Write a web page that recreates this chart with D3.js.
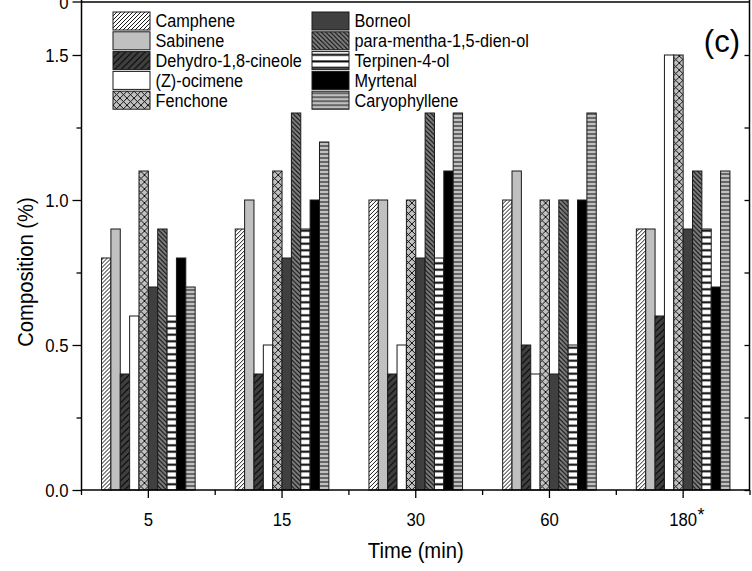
<!DOCTYPE html>
<html>
<head>
<meta charset="utf-8">
<script src="https://cdn.jsdelivr.net/npm/d3@7"></script>
<style>
  body { margin: 0; background: #fff; }
  text { font-family: "Liberation Sans", Arial, sans-serif; fill: #000; }
</style>
</head>
<body>
<svg id="chart" width="752" height="571"></svg>
<script>
// time points (min)
const times = ["5", "15", "30", "60", "180"];

// composition (%) per compound, one value per time point
const camphene       = [0.8, 0.9, 1.0, 1.0, 0.9];
const sabinene       = [0.9, 1.0, 1.0, 1.1, 0.9];
const dehydroCineole = [0.4, 0.4, 0.4, 0.5, 0.6];
const zOcimene       = [0.6, 0.5, 0.5, 0.4, 1.5];
const fenchone       = [1.1, 1.1, 1.0, 1.0, 1.5];
const borneol        = [0.7, 0.8, 0.8, 0.4, 0.9];
const paraMentha     = [0.9, 1.3, 1.3, 1.0, 1.1];
const terpinenol     = [0.6, 0.9, 0.8, 0.5, 0.9];
const myrtenal       = [0.8, 1.0, 1.1, 1.0, 0.7];
const caryophyllene  = [0.7, 1.2, 1.3, 1.3, 1.1];

const compoundNames = ["Camphene", "Sabinene", "Dehydro-1,8-cineole", "(Z)-ocimene", "Fenchone",
    "Borneol", "para-mentha-1,5-dien-ol", "Terpinen-4-ol", "Myrtenal", "Caryophyllene"];
const compoundValues = [camphene, sabinene, dehydroCineole, zOcimene, fenchone,
    borneol, paraMentha, terpinenol, myrtenal, caryophyllene];

const yMajor = [0, 0.5, 1.0, 1.5];
const yMinor = [0.25, 0.75, 1.25];

const svg = d3.select("#chart");
const defs = svg.append("defs");

const margin = { left: 81.5, right: 750, top: 55, bottom: 490 };

// squeeze text horizontally like the original export
const condense = (sel, sx) => sel.each(function() {
    const t = d3.select(this);
    const x = +t.attr("x") || 0;
    const y = +t.attr("y") || 0;
    t.attr("x", 0).attr("y", 0)
        .attr("transform", `translate(${x},${y}) scale(${sx},1)`);
});

// fill patterns
const diagPattern = (id, size, bg, dir, width) => {
    const p = defs.append("pattern")
        .attr("id", id)
        .attr("patternUnits", "userSpaceOnUse")
        .attr("width", size)
        .attr("height", size);
    p.append("rect").attr("width", size).attr("height", size).attr("fill", bg);
    const s = size;
    const fwd = `M0,${s} L${s},0 M${-s/4},${s/4} L${s/4},${-s/4} M${3*s/4},${5*s/4} L${5*s/4},${3*s/4}`;
    const back = `M0,0 L${s},${s} M${-s/4},${3*s/4} L${s/4},${5*s/4} M${3*s/4},${-s/4} L${5*s/4},${s/4}`;
    const d = dir === "fwd" ? fwd : dir === "back" ? back : fwd + " " + back;
    p.append("path").attr("d", d).attr("stroke", "#000").attr("stroke-width", width).attr("fill", "none");
};
const horizPattern = (id, size, bg, lineColor, width) => {
    const p = defs.append("pattern")
        .attr("id", id)
        .attr("patternUnits", "userSpaceOnUse")
        .attr("width", 8)
        .attr("height", size);
    p.append("rect").attr("width", 8).attr("height", size).attr("fill", bg);
    p.append("line").attr("x1", 0).attr("x2", 8).attr("y1", size / 2).attr("y2", size / 2)
        .attr("stroke", lineColor).attr("stroke-width", width);
};

diagPattern("p-camphene", 4, "#fff", "fwd", 0.9);
diagPattern("p-dehydro", 6.5, "#404040", "fwd", 1);
diagPattern("p-fenchone", 7, "#c0c0c0", "cross", 0.9);
diagPattern("p-para", 4.5, "#808080", "back", 1);
horizPattern("p-terpinen", 6.5, "#fff", "#000", 2);
horizPattern("p-caryo", 4, "#c0c0c0", "#404040", 1.4);

const fills = ["url(#p-camphene)", "#c0c0c0", "url(#p-dehydro)", "#fff", "url(#p-fenchone)",
    "#404040", "url(#p-para)", "url(#p-terpinen)", "#000", "url(#p-caryo)"];

// scales
const xScale = d3.scaleBand()
    .domain(times)
    .range([margin.left, margin.right]);
const bw = xScale.bandwidth();
const xInner = d3.scaleBand()
    .domain(compoundNames)
    .range([bw * 0.15, bw * 0.85]);
const yScale = d3.scaleLinear()
    .domain([0, 1.5])
    .range([margin.bottom, margin.top]);

// bars
const groups = svg.append("g").selectAll("g")
    .data(times)
    .join("g")
    .attr("transform", d => `translate(${xScale(d)},0)`);

groups.selectAll("rect")
    .data((t, i) => compoundNames.map((name, k) => ({ name, k, value: compoundValues[k][i] })))
    .join("rect")
    .attr("x", d => xInner(d.name))
    .attr("width", xInner.bandwidth())
    .attr("y", d => yScale(d.value))
    .attr("height", d => yScale(0) - yScale(d.value))
    .attr("fill", d => fills[d.k])
    .attr("stroke", "#1a1a1a")
    .attr("stroke-width", 1);

// left axis
const leftAxis = svg.append("g")
    .attr("transform", `translate(${margin.left},0)`)
    .call(d3.axisLeft(yScale).tickValues(yMajor).tickFormat(d3.format(".1f")).tickSize(9).tickPadding(4));
leftAxis.select(".domain").remove();
leftAxis.selectAll("line").attr("stroke-width", 1.3);
leftAxis.selectAll("text").attr("font-size", 19).attr("dy", "0.35em").call(condense, 0.88);

const leftMinor = svg.append("g")
    .attr("transform", `translate(${margin.left},0)`)
    .call(d3.axisLeft(yScale).tickValues(yMinor).tickFormat("").tickSize(5));
leftMinor.select(".domain").remove();
leftMinor.selectAll("line").attr("stroke-width", 1.3);

svg.append("line")
    .attr("x1", margin.left).attr("x2", margin.left)
    .attr("y1", 0).attr("y2", margin.bottom)
    .attr("stroke", "#000").attr("stroke-width", 1.5);

// right frame line of the neighbouring panel
const rightAxis = svg.append("g")
    .attr("transform", `translate(${margin.right - 0.5},0)`)
    .call(d3.axisRight(yScale).tickValues(yMajor.concat(yMinor)).tickFormat("").tickSize(-5));
rightAxis.select(".domain").remove();
rightAxis.selectAll("line").attr("stroke-width", 1.3);
svg.append("line")
    .attr("x1", margin.right - 0.5).attr("x2", margin.right - 0.5)
    .attr("y1", 0).attr("y2", margin.bottom)
    .attr("stroke", "#000").attr("stroke-width", 1.5);

// bottom axis
const bottomAxis = svg.append("g")
    .attr("transform", `translate(0,${margin.bottom})`)
    .call(d3.axisBottom(xScale).tickSize(8).tickPadding(14));
bottomAxis.select(".domain").remove();
bottomAxis.selectAll("line").attr("stroke-width", 1.3);
bottomAxis.selectAll("text").attr("font-size", 19).call(condense, 0.88);

svg.append("g").selectAll("line")
    .data(times.map(t => xScale(t)).concat([margin.right]))
    .join("line")
    .attr("x1", d => d).attr("x2", d => d)
    .attr("y1", margin.bottom).attr("y2", margin.bottom + 5)
    .attr("stroke", "#000").attr("stroke-width", 1.3);

svg.append("line")
    .attr("x1", margin.left).attr("x2", margin.right)
    .attr("y1", margin.bottom).attr("y2", margin.bottom)
    .attr("stroke", "#000").attr("stroke-width", 1.5);

// asterisk on the last time point
const lastNode = bottomAxis.selectAll(".tick text").filter(d => d === "180").node();
const lastWidth = lastNode.getComputedTextLength() * 0.88;
svg.append("text")
    .attr("x", xScale("180") + bw / 2 + lastWidth / 2 + 0.5)
    .attr("y", margin.bottom + 31)
    .attr("font-size", 18)
    .text("*");

// baseline of the panel above
svg.append("line")
    .attr("x1", margin.left).attr("x2", margin.right)
    .attr("y1", 2).attr("y2", 2)
    .attr("stroke", "#000").attr("stroke-width", 1.5);
svg.append("line")
    .attr("x1", margin.left - 9).attr("x2", margin.left)
    .attr("y1", 2).attr("y2", 2)
    .attr("stroke", "#000").attr("stroke-width", 1.3);
svg.append("text")
    .attr("x", margin.left - 13)
    .attr("y", 2)
    .attr("dy", "0.35em")
    .attr("text-anchor", "end")
    .attr("font-size", 19)
    .text("0")
    .call(condense, 0.88);

// axis titles
svg.append("text")
    .attr("x", (margin.left + margin.right) / 2)
    .attr("y", 558)
    .attr("text-anchor", "middle")
    .attr("font-size", 22)
    .text("Time (min)")
    .call(condense, 0.92);
svg.append("text")
    .attr("transform", `translate(33,272) rotate(-90) scale(0.92,1)`)
    .attr("text-anchor", "middle")
    .attr("font-size", 22)
    .text("Composition (%)");

// panel letter
svg.append("text")
    .attr("x", 740)
    .attr("y", 52)
    .attr("text-anchor", "end")
    .attr("font-size", 31)
    .text("(c)");

// legend
const legend = svg.append("g").selectAll("g")
    .data(compoundNames.map((name, k) => ({ name, k })))
    .join("g")
    .attr("transform", d => `translate(${d.k < 5 ? 113 : 312},${12 + (d.k % 5) * 19.8})`);
legend.append("rect")
    .attr("width", 37)
    .attr("height", 18)
    .attr("fill", d => fills[d.k])
    .attr("stroke", "#1a1a1a")
    .attr("stroke-width", 1);
legend.append("text")
    .attr("x", 42.5)
    .attr("y", 9)
    .attr("dy", "0.36em")
    .attr("font-size", 17.5)
    .text(d => d.name)
    .call(condense, 0.93);
</script>
</body>
</html>
